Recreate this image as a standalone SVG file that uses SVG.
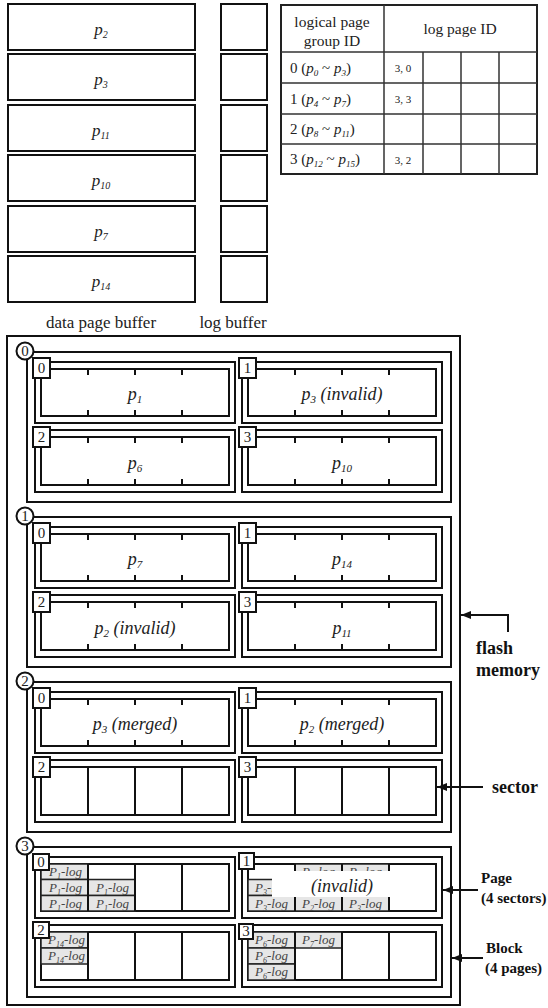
<svg xmlns="http://www.w3.org/2000/svg" width="548" height="1008" viewBox="0 0 548 1008">
<defs>
<style>
.ln{fill:none;stroke:#111;stroke-width:2}
.bx{fill:#fff;stroke:#111;stroke-width:2}
.tl{fill:none;stroke:#333;stroke-width:1.5}
.g{fill:#e6e6e6;stroke:#222;stroke-width:1.5}
.cn{fill:none;stroke:#111;stroke-width:2}
text{font-family:'Liberation Serif','Times New Roman',serif;fill:#222}
.i{font-style:italic}
.pg{font-size:18px;font-style:italic;text-anchor:middle}
.bf{font-size:17px;font-style:italic;text-anchor:middle}
.lg{font-size:13px;font-style:italic;fill:#444}
.num{font-size:15px;text-anchor:middle}
.b{font-weight:bold;font-size:18px;fill:#111}
.bs{font-weight:bold;font-size:15px;fill:#111}
</style>
<marker id="ah" markerWidth="10" markerHeight="8" refX="10" refY="4" orient="auto" markerUnits="userSpaceOnUse"><path d="M0,0 L10,4 L0,8 Z" fill="#111"/></marker>
<clipPath id="hide"><path d="M0 0H548V24H0ZM0 24H272V50H0ZM392 24H548V50H392ZM0 50H548V160H0Z"/></clipPath>
</defs>
<rect width="548" height="1008" fill="#fff"/>

<g id="data-page-buffer">
<rect class="bx" x="8" y="4" width="187" height="46"/>
<rect class="bx" x="8" y="54" width="187" height="46"/>
<rect class="bx" x="8" y="105" width="187" height="46"/>
<rect class="bx" x="8" y="155" width="187" height="46"/>
<rect class="bx" x="8" y="206" width="187" height="46"/>
<rect class="bx" x="8" y="256" width="187" height="46"/>
<text class="bf" x="101" y="35">p<tspan font-size="10" dy="3">2</tspan></text>
<text class="bf" x="101" y="85">p<tspan font-size="10" dy="3">3</tspan></text>
<text class="bf" x="101" y="136">p<tspan font-size="10" dy="3">11</tspan></text>
<text class="bf" x="101" y="186">p<tspan font-size="10" dy="3">10</tspan></text>
<text class="bf" x="101" y="237">p<tspan font-size="10" dy="3">7</tspan></text>
<text class="bf" x="101" y="287">p<tspan font-size="10" dy="3">14</tspan></text>
<text x="101" y="328" font-size="17" text-anchor="middle">data page buffer</text>
</g>

<g id="log-buffer">
<rect class="bx" x="221" y="4" width="46" height="46"/>
<rect class="bx" x="221" y="54" width="46" height="46"/>
<rect class="bx" x="221" y="105" width="46" height="46"/>
<rect class="bx" x="221" y="155" width="46" height="46"/>
<rect class="bx" x="221" y="206" width="46" height="46"/>
<rect class="bx" x="221" y="256" width="46" height="46"/>
<text x="233" y="328" font-size="17" text-anchor="middle">log buffer</text>
</g>

<g id="mapping-table">
<rect x="281" y="5" width="256" height="169" fill="#fff" stroke="#222" stroke-width="2"/>
<path class="tl" d="M384 5V174M281 52H537M281 83H537M281 114H537M281 144H537M423 52V174M461 52V174M499 52V174"/>
<text x="332" y="27" font-size="15.5" text-anchor="middle">logical page</text>
<text x="332" y="46" font-size="15.5" text-anchor="middle">group ID</text>
<text x="460" y="34" font-size="15.5" text-anchor="middle">log page ID</text>
<text x="290" y="73" font-size="15">0 (<tspan class="i">p</tspan><tspan class="i" font-size="9" dy="3">0</tspan><tspan dy="-3"> ~ </tspan><tspan class="i">p</tspan><tspan class="i" font-size="9" dy="3">3</tspan><tspan dy="-3">)</tspan></text>
<text x="290" y="104" font-size="15">1 (<tspan class="i">p</tspan><tspan class="i" font-size="9" dy="3">4</tspan><tspan dy="-3"> ~ </tspan><tspan class="i">p</tspan><tspan class="i" font-size="9" dy="3">7</tspan><tspan dy="-3">)</tspan></text>
<text x="290" y="134" font-size="15">2 (<tspan class="i">p</tspan><tspan class="i" font-size="9" dy="3">8</tspan><tspan dy="-3"> ~ </tspan><tspan class="i">p</tspan><tspan class="i" font-size="9" dy="3">11</tspan><tspan dy="-3">)</tspan></text>
<text x="290" y="164" font-size="15">3 (<tspan class="i">p</tspan><tspan class="i" font-size="9" dy="3">12</tspan><tspan dy="-3"> ~ </tspan><tspan class="i">p</tspan><tspan class="i" font-size="9" dy="3">15</tspan><tspan dy="-3">)</tspan></text>
<text x="403" y="72" font-size="11" text-anchor="middle">3, 0</text>
<text x="403" y="103" font-size="11" text-anchor="middle">3, 3</text>
<text x="403" y="164" font-size="11" text-anchor="middle">3, 2</text>
</g>

<g id="flash-memory">
<rect class="ln" x="7" y="336" width="453" height="669"/>
</g>

<g id="block0" transform="translate(0,352)">
<rect class="ln" x="27" y="0" width="424" height="150"/>
<circle class="bx" cx="25" cy="-1" r="8.5"/><text class="num" x="25" y="4" font-size="14">0</text>
<g id="b0p0"><rect class="ln" x="35" y="10" width="200" height="61"/><rect class="ln" x="41" y="17" width="188" height="47"/><path class="ln" d="M88 17v6M135 17v6M182 17v6M88 64v-6M135 64v-6M182 64v-6"/><text class="pg" x="135" y="48">p<tspan font-size="11" dy="3">1</tspan></text><rect class="bx" x="33" y="6" width="17" height="20"/><text class="num" x="41.5" y="21">0</text></g>
<g id="b0p1"><rect class="ln" x="242" y="10" width="200" height="61"/><rect class="ln" x="248" y="17" width="188" height="47"/><path class="ln" d="M295 17v6M342 17v6M389 17v6M295 64v-6M342 64v-6M389 64v-6"/><text class="pg" x="342" y="48">p<tspan font-size="11" dy="3">3</tspan><tspan dy="-3"> (invalid)</tspan></text><rect class="bx" x="239" y="6" width="17" height="20"/><text class="num" x="247.5" y="21">1</text></g>
<g id="b0p2"><rect class="ln" x="35" y="78" width="200" height="62"/><rect class="ln" x="41" y="85" width="188" height="48"/><path class="ln" d="M88 85v6M135 85v6M182 85v6M88 133v-6M135 133v-6M182 133v-6"/><text class="pg" x="135" y="117">p<tspan font-size="11" dy="3">6</tspan></text><rect class="bx" x="33" y="75" width="17" height="20"/><text class="num" x="41.5" y="90">2</text></g>
<g id="b0p3"><rect class="ln" x="242" y="78" width="200" height="62"/><rect class="ln" x="248" y="85" width="188" height="48"/><path class="ln" d="M295 85v6M342 85v6M389 85v6M295 133v-6M342 133v-6M389 133v-6"/><text class="pg" x="342" y="117">p<tspan font-size="11" dy="3">10</tspan></text><rect class="bx" x="239" y="75" width="17" height="20"/><text class="num" x="247.5" y="90">3</text></g>
</g>

<g id="block1" transform="translate(0,517)">
<rect class="ln" x="27" y="0" width="424" height="150"/>
<circle class="bx" cx="25" cy="-1" r="8.5"/><text class="num" x="25" y="4" font-size="14">1</text>
<g id="b1p0"><rect class="ln" x="35" y="10" width="200" height="61"/><rect class="ln" x="41" y="17" width="188" height="47"/><path class="ln" d="M88 17v6M135 17v6M182 17v6M88 64v-6M135 64v-6M182 64v-6"/><text class="pg" x="135" y="48">p<tspan font-size="11" dy="3">7</tspan></text><rect class="bx" x="33" y="6" width="17" height="20"/><text class="num" x="41.5" y="21">0</text></g>
<g id="b1p1"><rect class="ln" x="242" y="10" width="200" height="61"/><rect class="ln" x="248" y="17" width="188" height="47"/><path class="ln" d="M295 17v6M342 17v6M389 17v6M295 64v-6M342 64v-6M389 64v-6"/><text class="pg" x="342" y="48">p<tspan font-size="11" dy="3">14</tspan></text><rect class="bx" x="239" y="6" width="17" height="20"/><text class="num" x="247.5" y="21">1</text></g>
<g id="b1p2"><rect class="ln" x="35" y="78" width="200" height="62"/><rect class="ln" x="41" y="85" width="188" height="48"/><path class="ln" d="M88 85v6M135 85v6M182 85v6M88 133v-6M135 133v-6M182 133v-6"/><text class="pg" x="135" y="117">p<tspan font-size="11" dy="3">2</tspan><tspan dy="-3"> (invalid)</tspan></text><rect class="bx" x="33" y="75" width="17" height="20"/><text class="num" x="41.5" y="90">2</text></g>
<g id="b1p3"><rect class="ln" x="242" y="78" width="200" height="62"/><rect class="ln" x="248" y="85" width="188" height="48"/><path class="ln" d="M295 85v6M342 85v6M389 85v6M295 133v-6M342 133v-6M389 133v-6"/><text class="pg" x="342" y="117">p<tspan font-size="11" dy="3">11</tspan></text><rect class="bx" x="239" y="75" width="17" height="20"/><text class="num" x="247.5" y="90">3</text></g>
</g>

<g id="block2" transform="translate(0,682)">
<rect class="ln" x="27" y="0" width="424" height="150"/>
<circle class="bx" cx="25" cy="-1" r="8.5"/><text class="num" x="25" y="4" font-size="14">2</text>
<g id="b2p0"><rect class="ln" x="35" y="10" width="200" height="61"/><rect class="ln" x="41" y="17" width="188" height="47"/><path class="ln" d="M88 17v6M135 17v6M182 17v6M88 64v-6M135 64v-6M182 64v-6"/><text class="pg" x="135" y="48">p<tspan font-size="11" dy="3">3</tspan><tspan dy="-3"> (merged)</tspan></text><rect class="bx" x="33" y="6" width="17" height="20"/><text class="num" x="41.5" y="21">0</text></g>
<g id="b2p1"><rect class="ln" x="242" y="10" width="200" height="61"/><rect class="ln" x="248" y="17" width="188" height="47"/><path class="ln" d="M295 17v6M342 17v6M389 17v6M295 64v-6M342 64v-6M389 64v-6"/><text class="pg" x="342" y="48">p<tspan font-size="11" dy="3">2</tspan><tspan dy="-3"> (merged)</tspan></text><rect class="bx" x="239" y="6" width="17" height="20"/><text class="num" x="247.5" y="21">1</text></g>
<g id="b2p2"><rect class="ln" x="35" y="78" width="200" height="62"/><rect class="ln" x="41" y="85" width="188" height="48"/><path class="ln" d="M88 85V133M135 85V133M182 85V133"/><rect class="bx" x="33" y="75" width="17" height="20"/><text class="num" x="41.5" y="90">2</text></g>
<g id="b2p3"><rect class="ln" x="242" y="78" width="200" height="62"/><rect class="ln" x="248" y="85" width="188" height="48"/><path class="ln" d="M295 85V133M342 85V133M389 85V133"/><rect class="bx" x="239" y="75" width="17" height="20"/><text class="num" x="247.5" y="90">3</text></g>
</g>

<g id="block3" transform="translate(0,847)">
<rect class="ln" x="27" y="0" width="424" height="150"/>
<circle class="bx" cx="25" cy="-1" r="8.5"/><text class="num" x="25" y="4" font-size="14">3</text>
<g id="b3p0"><rect class="ln" x="35" y="10" width="200" height="61"/><rect class="ln" x="41" y="17" width="188" height="47"/>
<rect class="g" x="41" y="17" width="47" height="15.5"/><rect class="g" x="41" y="32.5" width="47" height="16"/><rect class="g" x="41" y="48.5" width="47" height="15.5"/>
<rect class="g" x="88" y="32.5" width="47" height="16"/><rect class="g" x="88" y="48.5" width="47" height="15.5"/>
<path class="ln" d="M88 17V64M135 17V64M182 17V64"/>
<text class="lg" x="49" y="29">P<tspan font-size="8" dy="3">1</tspan><tspan dy="-3">-log</tspan></text>
<text class="lg" x="49" y="45">P<tspan font-size="8" dy="3">1</tspan><tspan dy="-3">-log</tspan></text>
<text class="lg" x="49" y="60.5">P<tspan font-size="8" dy="3">1</tspan><tspan dy="-3">-log</tspan></text>
<text class="lg" x="96" y="45">P<tspan font-size="8" dy="3">1</tspan><tspan dy="-3">-log</tspan></text>
<text class="lg" x="96" y="60.5">P<tspan font-size="8" dy="3">1</tspan><tspan dy="-3">-log</tspan></text>
<rect class="bx" x="33" y="7" width="16" height="16"/><text class="num" x="41" y="20">0</text></g>
<g id="b3p1"><rect class="ln" x="242" y="10" width="200" height="61"/><rect class="ln" x="248" y="17" width="188" height="47"/>
<g clip-path="url(#hide)">
<rect class="g" x="248" y="32.5" width="47" height="16"/><rect class="g" x="248" y="48.5" width="47" height="15.5"/>
<rect class="g" x="295" y="17" width="47" height="15.5"/><rect class="g" x="295" y="32.5" width="47" height="16"/><rect class="g" x="295" y="48.5" width="47" height="15.5"/>
<rect class="g" x="342" y="17" width="47" height="15.5"/><rect class="g" x="342" y="32.5" width="47" height="16"/><rect class="g" x="342" y="48.5" width="47" height="15.5"/>
<path class="ln" d="M295 17V64M342 17V64M389 17V64"/>
<text class="lg" x="255" y="45">P<tspan font-size="8" dy="3">3</tspan><tspan dy="-3">-log</tspan></text>
<text class="lg" x="255" y="60.5">P<tspan font-size="8" dy="3">3</tspan><tspan dy="-3">-log</tspan></text>
<text class="lg" x="302" y="29">P<tspan font-size="8" dy="3">2</tspan><tspan dy="-3">-log</tspan></text>
<text class="lg" x="302" y="60.5">P<tspan font-size="8" dy="3">2</tspan><tspan dy="-3">-log</tspan></text>
<text class="lg" x="349" y="29">P<tspan font-size="8" dy="3">3</tspan><tspan dy="-3">-log</tspan></text>
<text class="lg" x="349" y="60.5">P<tspan font-size="8" dy="3">3</tspan><tspan dy="-3">-log</tspan></text>
</g>
<rect x="272" y="24" width="120" height="26" fill="#fff"/>
<text class="pg" x="342" y="45" font-size="20">(invalid)</text>
<rect class="bx" x="239" y="6" width="15" height="16"/><text class="num" x="246.5" y="19">1</text></g>
<g id="b3p2"><rect class="ln" x="35" y="78" width="200" height="62"/><rect class="ln" x="41" y="85" width="188" height="48"/>
<rect class="g" x="41" y="85" width="47" height="16"/><rect class="g" x="41" y="101" width="47" height="16"/>
<path class="ln" d="M88 85V133M135 85V133M182 85V133"/>
<text class="lg" x="48" y="97">P<tspan font-size="8" dy="3">14</tspan><tspan dy="-3">-log</tspan></text>
<text class="lg" x="48" y="113">P<tspan font-size="8" dy="3">14</tspan><tspan dy="-3">-log</tspan></text>
<rect class="bx" x="33" y="75" width="16" height="16"/><text class="num" x="41" y="88">2</text></g>
<g id="b3p3"><rect class="ln" x="242" y="78" width="200" height="62"/><rect class="ln" x="248" y="85" width="188" height="48"/>
<rect class="g" x="248" y="85" width="47" height="16"/><rect class="g" x="248" y="101" width="47" height="16"/><rect class="g" x="248" y="117" width="47" height="16"/>
<rect class="g" x="295" y="85" width="47" height="16"/>
<path class="ln" d="M295 85V133M342 85V133M389 85V133"/>
<text class="lg" x="255" y="97">P<tspan font-size="8" dy="3">6</tspan><tspan dy="-3">-log</tspan></text>
<text class="lg" x="255" y="113">P<tspan font-size="8" dy="3">6</tspan><tspan dy="-3">-log</tspan></text>
<text class="lg" x="255" y="129">P<tspan font-size="8" dy="3">6</tspan><tspan dy="-3">-log</tspan></text>
<text class="lg" x="302" y="97">P<tspan font-size="8" dy="3">7</tspan><tspan dy="-3">-log</tspan></text>
<rect class="bx" x="239" y="77" width="14" height="15"/><text class="num" x="246" y="89">3</text></g>
</g>

<g id="connectors">
<path class="cn" d="M508 632V615H461" marker-end="url(#ah)"/>
<path class="cn" d="M483 787H437" marker-end="url(#ah)"/>
<path class="cn" d="M478 890H443" marker-end="url(#ah)"/>
<path class="cn" d="M483 958H452" marker-end="url(#ah)"/>
</g>

<g id="labels">
<text class="b" x="476" y="654">flash</text>
<text class="b" x="476" y="676">memory</text>
<text class="b" x="492" y="793">sector</text>
<text class="bs" x="481" y="883">Page</text>
<text class="bs" x="481" y="903">(4 sectors)</text>
<text class="bs" x="486" y="953">Block</text>
<text class="bs" x="485" y="973">(4 pages)</text>
</g>
</svg>
